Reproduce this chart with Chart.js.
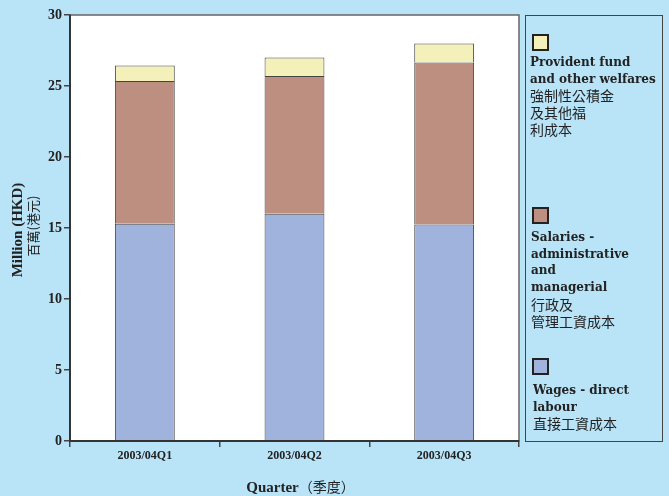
<!DOCTYPE html>
<html>
<head>
<meta charset="utf-8">
<script src="https://cdn.jsdelivr.net/npm/chart.js@4.4.0/dist/chart.umd.min.js"></script>
<style>
	body { margin: 0; background: #b9e4f8; }
	#wrap { position: relative; width: 669px; height: 496px; }
	#legend { position: absolute; left: 525px; top: 15px; width: 138px; height: 427px; border: 1px solid #444; box-sizing: border-box; }
	.sq { position: absolute; width: 13px; height: 13px; border: 2px solid #222; }
	.txt { position: absolute; color: #222; white-space: nowrap; }
	.en { font: bold 12px "DejaVu Serif", serif; line-height: 16.7px; }
	.zh { font: 14px "Noto Sans CJK TC", sans-serif; line-height: 16.7px; }
</style>
</head>
<body>
<div id="wrap">
	<canvas id="myChart" width="669" height="496"></canvas>
	<div id="legend"></div>
</div>
<script>
var categories = ['2003/04Q1', '2003/04Q2', '2003/04Q3'];
var wages = [15.3, 16.0, 15.25];
var salaries = [10.05, 9.7, 11.4];
var provident = [1.1, 1.3, 1.35];
var yTicks = [0, 5, 10, 15, 20, 25, 30];

var seriesNames = ['Wages - direct labour', 'Salaries - administrative and managerial', 'Provident fund and other welfares'];
var seriesColors = ['#9fb3dc', '#bc8f80', '#f4f0ba'];

// legend text lines, top item first
var legendItems = [
	{ color: seriesColors[2], en: ['Provident fund', 'and other welfares'], zh: ['強制性公積金', '及其他福', '利成本'], sq: 34, txt: 54, x: 530 },
	{ color: seriesColors[1], en: ['Salaries -', 'administrative', 'and', 'managerial'], zh: ['行政及', '管理工資成本'], sq: 207, txt: 229, x: 531 },
	{ color: seriesColors[0], en: ['Wages - direct', 'labour'], zh: ['直接工資成本'], sq: 358, txt: 382, x: 533 }
];

var legend = document.getElementById('legend');
legendItems.map(function(item) {
	var sq = document.createElement('div');
	sq.className = 'sq';
	sq.style.left = (532 - 526) + 'px';
	sq.style.top = (item.sq - 16) + 'px';
	sq.style.background = item.color;
	legend.appendChild(sq);
	var txt = document.createElement('div');
	txt.className = 'txt';
	txt.style.left = (item.x - 526) + 'px';
	txt.style.top = (item.txt - 16) + 'px';
	var html = '';
	item.en.map(function(l) { html += '<div class="en">' + l + '</div>'; });
	item.zh.map(function(l) { html += '<div class="zh">' + l + '</div>'; });
	txt.innerHTML = html;
	legend.appendChild(txt);
});

var plotFrame = {
	id: 'plotFrame',
	beforeDraw: function(chart) {
		var a = chart.chartArea, ctx = chart.ctx;
		ctx.save();
		ctx.fillStyle = '#ffffff';
		ctx.fillRect(a.left, a.top, a.right - a.left, a.bottom - a.top);
		ctx.restore();
	},
	afterDraw: function(chart) {
		var a = chart.chartArea, ctx = chart.ctx;
		ctx.save();
		ctx.strokeStyle = '#666';
		ctx.lineWidth = 1.5;
		ctx.strokeRect(a.left, a.top, a.right - a.left, a.bottom - a.top);
		ctx.strokeStyle = '#333';
		ctx.lineWidth = 2;
		ctx.beginPath();
		ctx.moveTo(a.left, a.top);
		ctx.lineTo(a.left, a.bottom);
		ctx.lineTo(a.right, a.bottom);
		ctx.stroke();

		// axis titles
		ctx.fillStyle = '#222';
		ctx.textBaseline = 'middle';
		ctx.textAlign = 'center';
		var cy = (a.top + a.bottom) / 2;
		ctx.translate(18, cy + 2);
		ctx.rotate(-Math.PI / 2);
		ctx.font = 'bold 15px "Liberation Serif", serif';
		ctx.fillText('Million (HKD)', 0, 0);
		ctx.font = '13px "Noto Sans CJK TC", sans-serif';
		ctx.fillText('百萬(港元)', 4, 15);
		ctx.setTransform(1, 0, 0, 1, 0, 0);

		ctx.textAlign = 'left';
		ctx.font = 'bold 15px "Liberation Serif", serif';
		var w1 = ctx.measureText('Quarter').width;
		ctx.font = '14px "Noto Sans CJK TC", sans-serif';
		var w2 = ctx.measureText('（季度）').width;
		var x0 = (a.left + a.right) / 2 - (w1 + w2) / 2 + 6;
		ctx.font = 'bold 15px "Liberation Serif", serif';
		ctx.fillText('Quarter', x0, 488);
		ctx.font = '14px "Noto Sans CJK TC", sans-serif';
		ctx.fillText('（季度）', x0 + w1, 487);
		ctx.restore();
	}
};

var ctx = document.getElementById('myChart');
var myChart = new Chart(ctx, {
	type: 'bar',
	data: {
		labels: categories,
		datasets: [{
			label: seriesNames[0],
			data: wages,
			backgroundColor: seriesColors[0],
			borderColor: '#444',
			borderWidth: 1
		},
		{
			label: seriesNames[1],
			data: salaries,
			backgroundColor: seriesColors[1],
			borderColor: '#444',
			borderWidth: 1
		},
		{
			label: seriesNames[2],
			data: provident,
			backgroundColor: seriesColors[2],
			borderColor: '#444',
			borderWidth: 1
		}]
	},
	options: {
		responsive: false,
		animation: false,
		devicePixelRatio: 1,
		layout: { padding: { left: 0, top: 15, right: 150, bottom: 0 } },
		plugins: {
			legend: { display: false },
			tooltip: { enabled: false }
		},
		datasets: {
			bar: { barPercentage: 0.4, categoryPercentage: 1 }
		},
		scales: {
			x: {
				stacked: true,
				afterFit: function(s) { s.height = 55; },
				grid: { offset: true, drawOnChartArea: false, tickLength: 6, color: '#444', lineWidth: 1.5 },
				border: { color: '#333', width: 2 },
				ticks: { color: '#222', padding: 2, font: { family: 'Liberation Serif', weight: 'bold', size: 12 } }
			},
			y: {
				stacked: true,
				min: 0,
				max: 30,
				afterFit: function(s) { s.width = 70; },
				afterBuildTicks: function(s) { s.ticks = yTicks.map(function(v) { return { value: v }; }); },
				grid: { drawOnChartArea: false, tickLength: 6, color: '#444', lineWidth: 1.5 },
				border: { color: '#333', width: 2 },
				ticks: { color: '#222', padding: 2, font: { family: 'Liberation Serif', weight: 'bold', size: 14 } }
			}
		}
	},
	plugins: [plotFrame]
});
</script>
</body>
</html>
